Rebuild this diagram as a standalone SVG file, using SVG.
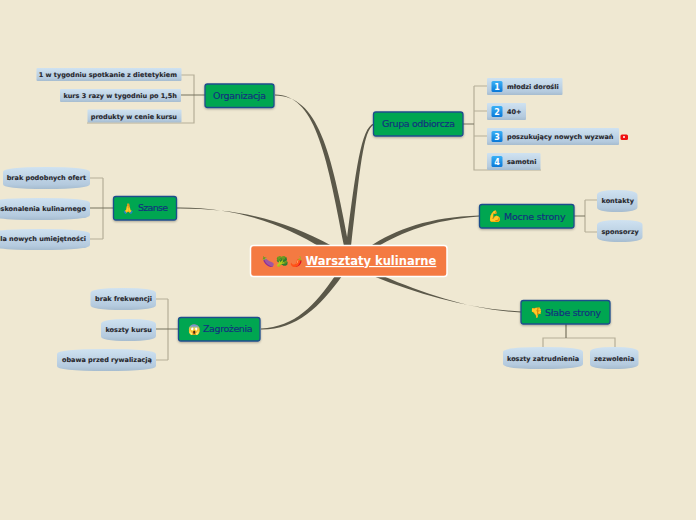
<svg xmlns="http://www.w3.org/2000/svg" width="696" height="520" viewBox="0 0 696 520">
<defs>
<linearGradient id="kid" x1="0" y1="0" x2="0" y2="1"><stop offset="0" stop-color="#cfe2f1"/><stop offset="0.8" stop-color="#b4cade"/><stop offset="1" stop-color="#a6bccf"/></linearGradient>
<linearGradient id="blue" x1="0" y1="0" x2="0" y2="1"><stop offset="0" stop-color="#3bb0f5"/><stop offset="1" stop-color="#0a78d8"/></linearGradient>
<filter id="sh" x="-10%" y="-20%" width="120%" height="150%"><feDropShadow dx="0" dy="1" stdDeviation="0.8" flood-color="#000" flood-opacity="0.3"/></filter>
</defs>
<style>
.main{fill:#00a651;stroke:#1f4e8c;stroke-width:1.3;filter:url(#sh)}
.mt{font-family:"DejaVu Sans",sans-serif;font-size:9.5px;fill:#13307f;stroke:#13307f;stroke-width:0.15}
.kid{fill:url(#kid)}
.kt{font-family:"DejaVu Sans",sans-serif;font-weight:700;font-size:6.5px;fill:#26262c;stroke:#26262c;stroke-width:0.1}
.em{font-family:"Noto Color Emoji","DejaVu Sans",sans-serif}
.num{fill:url(#blue)}
.nt{font-family:"DejaVu Sans",sans-serif;font-weight:700;font-size:8px;fill:#fff;text-anchor:middle}
.br{fill:none;stroke:#b5ae98;stroke-width:1.2}
.tr{fill:none;stroke:#77725f;stroke-width:1.2}
.tp{fill:#5b5849}
</style>
<rect width="696" height="520" fill="#efe8d2"/>
<g id="connectors">
<path class="tp" d="M275,94.500 C314,95 326,150 344,246 L349,246 C331,150 318,96 275,95.500Z"/>
<path class="tp" d="M374,123.500 C361,127 356,170 346,246 L351,246 C360,170 363,130 374,124.500Z"/>
<path class="tp" d="M177,207.500 C240,207 285,226 322,248 L332,246 C287,221 240,208 177,208.500Z"/>
<path class="tp" d="M479,215.500 C430,217 396,229 369,247 L377,247 C402,232 432,220 479,216.500Z"/>
<path class="tp" d="M521,311.500 C470,309 420,295 373,276 L383,276 C425,294 472,310 521,312.500Z"/>
<path class="tp" d="M261,328.500 C295,327 315,305 335,276 L342,276 C320,307 296,330 261,329.500Z"/>
<path class="br" d="M181,75H194V123H87M103,178V239M90,178H103M90,239H103M168,299V360M156,299H168M156,360H168M474,86V170H541M474,86H487M474,111H487M474,136H487M585,200V232M585,200H597M585,232H597M543,347V338H615V347"/>
<path class="tr" d="M181,95H205M90,208H113M156,329H178M463,124H474M574,216H585M566,324V338"/>
</g>
<g id="center"><rect x="250.500" y="245.500" width="196.500" height="31" rx="3" fill="#f47a42" stroke="#fff" stroke-width="1.500"/><text class="em" x="262" y="265" font-size="10">🍆</text><text class="em" x="276" y="265" font-size="10">🥦</text><text class="em" x="290" y="265" font-size="10">🌶️</text><text x="305.500" y="265" font-family="DejaVu Sans,sans-serif" font-size="11.500" font-weight="700" fill="#fff" text-decoration="underline">Warsztaty kulinarne</text></g>
<g id="organizacja"><rect class="main" x="205" y="84" width="69" height="23.500" rx="2.500"/><text class="mt" x="213" y="98.500" textLength="53">Organizacja</text></g>
<g id="szanse"><rect class="main" x="113.500" y="196.500" width="63" height="23.500" rx="2.500"/><text class="em" x="122" y="211.500" font-size="10">🙏</text><text class="mt" x="138" y="211" textLength="30">Szanse</text></g>
<g id="zagrozenia"><rect class="main" x="178.500" y="317.500" width="81.500" height="23.500" rx="2.500"/><text class="em" x="188" y="333" font-size="10">😱</text><text class="mt" x="203" y="332" textLength="49.500">Zagrożenia</text></g>
<g id="grupa"><rect class="main" x="373.500" y="112" width="89.500" height="24" rx="2.500"/><text class="mt" x="382" y="127" textLength="73">Grupa odbiorcza</text></g>
<g id="mocne"><rect class="main" x="479.500" y="204.500" width="94.500" height="23.500" rx="2.500"/><text class="em" x="488" y="220" font-size="11">💪</text><text class="mt" x="504" y="219.500" textLength="61.500">Mocne strony</text></g>
<g id="slabe"><rect class="main" x="521" y="300.500" width="89" height="23.500" rx="2.500"/><text class="em" x="530" y="316" font-size="10">👎</text><text class="mt" x="545" y="315.500" textLength="56">Słabe strony</text></g>
<g id="k1"><rect class="kid" x="36.500" y="68" width="145" height="13" rx="1"/><text class="kt" x="177" y="77" text-anchor="end">1 w tygodniu spotkanie z dietetykiem</text></g>
<g id="k2"><rect class="kid" x="60" y="89" width="121" height="13" rx="1"/><text class="kt" x="177" y="98" text-anchor="end">kurs 3 razy w tygodniu po 1,5h</text></g>
<g id="k3"><rect class="kid" x="87.500" y="109.500" width="94" height="13" rx="1"/><text class="kt" x="177" y="118.500" text-anchor="end">produkty w cenie kursu</text></g>
<g id="s1"><path class="kid" d="M3,172Q3,167 46,167T90,172V184Q90,189 46,189T3,184Z"/><text class="kt" x="86" y="180" text-anchor="end">brak podobnych ofert</text></g>
<g id="s2"><path class="kid" d="M-10,203Q-10,198 40,198T90,203V215Q90,220 40,220T-10,215Z"/><text class="kt" x="86" y="211" text-anchor="end">doskonalenia kulinarnego</text></g>
<g id="s3"><path class="kid" d="M-10,234Q-10,229 40,229T90,234V245Q90,250 40,250T-10,245Z"/><text class="kt" x="86" y="241" text-anchor="end">dla nowych umiejętności</text></g>
<g id="z1"><path class="kid" d="M90.500,293Q90.500,288 123,288T156,293V305Q156,310 123,310T90.500,305Z"/><text class="kt" x="152" y="301" text-anchor="end">brak frekwencji</text></g>
<g id="z2"><path class="kid" d="M101,324Q101,319 128,319T156,324V336Q156,341 128,341T101,336Z"/><text class="kt" x="152" y="332" text-anchor="end">koszty kursu</text></g>
<g id="z3"><path class="kid" d="M57,354Q57,349 106,349T156,354V366Q156,371 106,371T57,366Z"/><text class="kt" x="152" y="362" text-anchor="end">obawa przed rywalizacją</text></g>
<g id="g1"><rect class="kid" x="487" y="78" width="75.500" height="17" rx="1"/><rect class="num" x="491.500" y="81" width="11" height="11" rx="1.500"/><text class="nt" x="497" y="89.500">1</text><text class="kt" x="507" y="89">młodzi dorośli</text></g>
<g id="g2"><rect class="kid" x="487" y="103" width="39" height="17" rx="1"/><rect class="num" x="491.500" y="106" width="11" height="11" rx="1.500"/><text class="nt" x="497" y="114.500">2</text><text class="kt" x="507" y="114">40+</text></g>
<g id="g3"><rect class="kid" x="487" y="128" width="132" height="17" rx="1"/><rect class="num" x="491.500" y="131" width="11" height="11" rx="1.500"/><text class="nt" x="497" y="139.500">3</text><text class="kt" x="507" y="139">poszukujący nowych wyzwań</text><rect x="620.500" y="134.500" width="7.500" height="5.500" rx="1.500" fill="#f01010"/><circle cx="624" cy="137" r="1" fill="#fff"/></g>
<g id="g4"><rect class="kid" x="487" y="153" width="53.500" height="17" rx="1"/><rect class="num" x="491.500" y="156" width="11" height="11" rx="1.500"/><text class="nt" x="497" y="164.500">4</text><text class="kt" x="507" y="164">samotni</text></g>
<g id="m1"><path class="kid" d="M597,195Q597,190 617,190T637.500,195V207Q637.500,212 617,212T597,207Z"/><text class="kt" x="601.500" y="203">kontakty</text></g>
<g id="m2"><path class="kid" d="M597,225Q597,220 620,220T642.500,225V237Q642.500,242 620,242T597,237Z"/><text class="kt" x="601.500" y="234">sponsorzy</text></g>
<g id="w1"><path class="kid" d="M503,352Q503,347 543,347T583,352V364Q583,369 543,369T503,364Z"/><text class="kt" x="507" y="361">koszty zatrudnienia</text></g>
<g id="w2"><path class="kid" d="M590,352Q590,347 614,347T638.500,352V364Q638.500,369 614,369T590,364Z"/><text class="kt" x="594" y="361">zezwolenia</text></g>
</svg>
